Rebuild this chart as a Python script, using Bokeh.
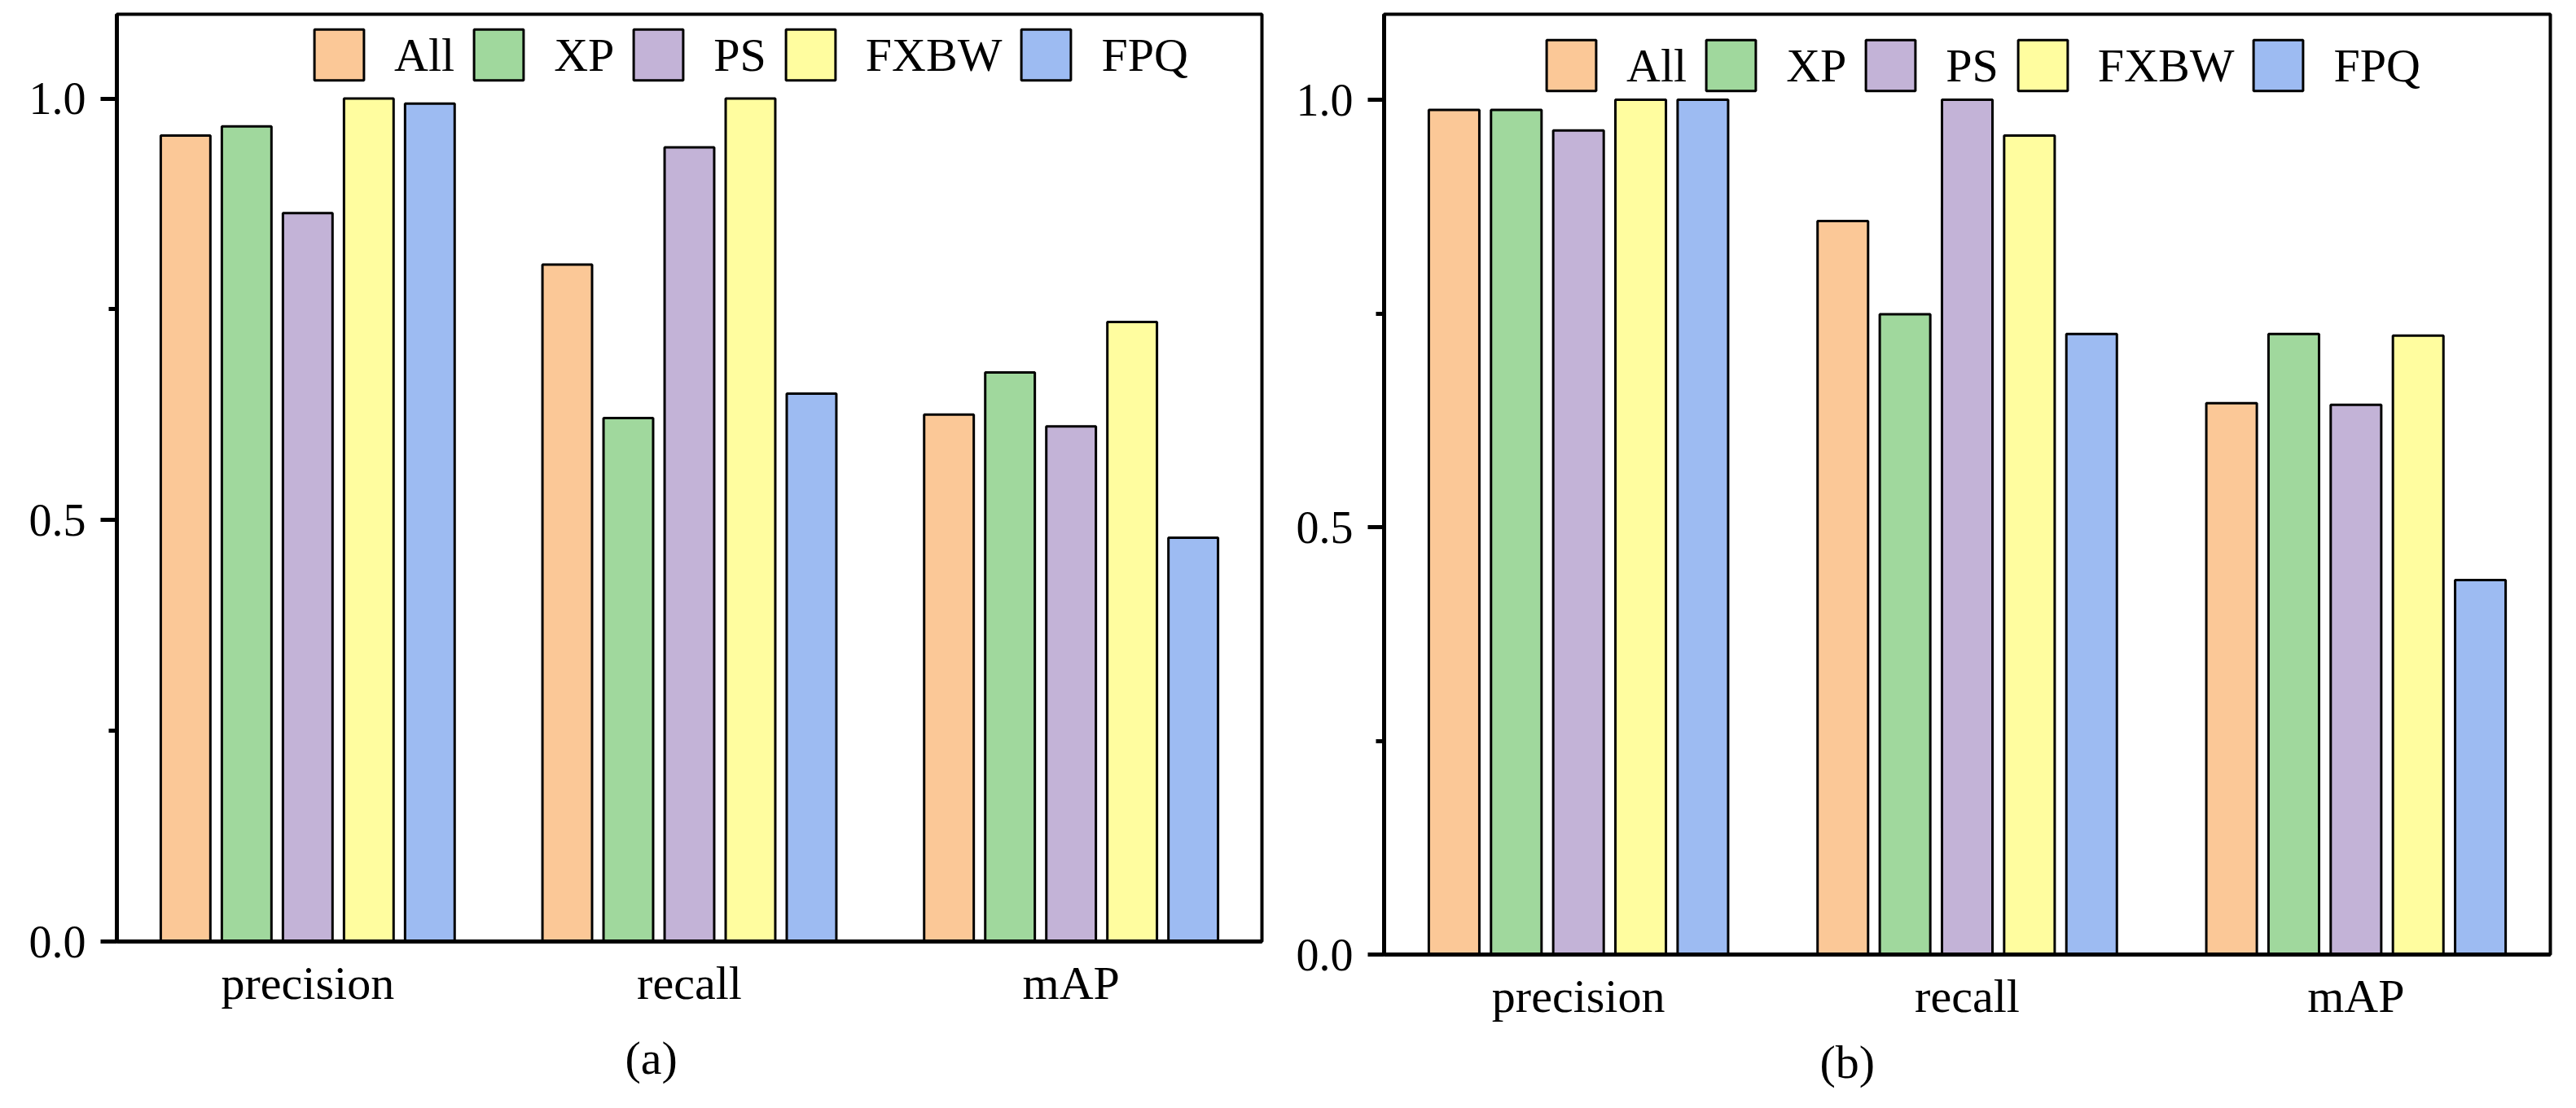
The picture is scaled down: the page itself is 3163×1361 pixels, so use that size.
from bokeh.plotting import figure
from bokeh.models import (ColumnDataSource, FactorRange, Range1d, Legend, LegendItem,
                          Title, FixedTicker, PrintfTickFormatter)
from bokeh.transform import dodge
from bokeh.layouts import row
from bokeh.embed import file_html
from bokeh.resources import INLINE

metrics = ["precision", "recall", "mAP"]
series = ["All", "XP", "PS", "FXBW", "FPQ"]

# panel (a)
a_all = [0.956, 0.803, 0.625]
a_xp = [0.967, 0.621, 0.675]
a_ps = [0.864, 0.942, 0.611]
a_fxbw = [1.000, 1.000, 0.735]
a_fpq = [0.994, 0.650, 0.479]

# panel (b)
b_all = [0.988, 0.858, 0.645]
b_xp = [0.988, 0.749, 0.726]
b_ps = [0.964, 1.000, 0.643]
b_fxbw = [1.000, 0.958, 0.724]
b_fpq = [1.000, 0.726, 0.438]

colors = ["#FBC897", "#A0D89D", "#C3B3D7", "#FFFD9F", "#9DBBF2"]
y_ticks = [0.0, 0.5, 1.0]
y_minor = [0.25, 0.75]

FONT = "Liberation Serif"


def make_panel(vals, fw, fh, bl, br, bt, legend_xy, sub, sub_off, sub_standoff):
    data = {"metric": metrics}
    for s, v in zip(series, vals):
        data[s] = v
    src = ColumnDataSource(data)
    p = figure(x_range=FactorRange(factors=metrics, range_padding=0),
               y_range=Range1d(0, 1.1), frame_width=fw, frame_height=fh,
               output_backend="svg", toolbar_location=None,
               min_border_left=bl, min_border_right=br,
               min_border_top=bt, min_border_bottom=20)
    offsets = [-0.32, -0.16, 0.0, 0.16, 0.32]
    rends = []
    for s, c, off in zip(series, colors, offsets):
        r = p.vbar(x=dodge("metric", off, range=p.x_range), top=s, width=0.13,
                   source=src, fill_color=c, line_color="black", line_width=3)
        rends.append(r)
    p.xgrid.visible = False
    p.ygrid.visible = False
    p.outline_line_color = "black"
    p.outline_line_width = 4
    p.outline_line_alpha = 1
    p.background_fill_color = "white"
    p.border_fill_color = "white"

    xa = p.xaxis[0]
    xa.axis_line_width = 5
    xa.major_tick_line_color = None
    xa.minor_tick_line_color = None
    xa.major_tick_out = 0
    xa.major_label_standoff = 18
    xa.major_label_text_font = FONT
    xa.major_label_text_font_size = "58px"
    xa.major_label_text_color = "black"

    ya = p.yaxis[0]
    ya.ticker = FixedTicker(ticks=y_ticks, minor_ticks=y_minor)
    ya.formatter = PrintfTickFormatter(format="%.1f")
    ya.axis_line_width = 5
    ya.major_tick_line_width = 5
    ya.minor_tick_line_width = 5
    ya.major_tick_out = 20
    ya.major_tick_in = 0
    ya.minor_tick_out = 10
    ya.minor_tick_in = 0
    ya.major_label_standoff = 18
    ya.major_label_text_font = FONT
    ya.major_label_text_font_size = "56px"
    ya.major_label_text_color = "black"

    items = [LegendItem(label=s, renderers=[r]) for s, r in zip(series, rends)]
    leg = Legend(items=items, orientation="horizontal", location=legend_xy,
                 glyph_width=76, glyph_height=78, label_standoff=30, spacing=16,
                 padding=0, margin=0, border_line_alpha=0, background_fill_alpha=0,
                 label_text_font=FONT, label_text_font_size="58px",
                 label_text_color="black")
    p.add_layout(leg)

    t = Title(text=sub, align="left", offset=sub_off, standoff=sub_standoff,
              text_font=FONT, text_font_size="58px", text_font_style="normal",
              text_color="black")
    p.add_layout(t, "below")
    return p


pa = make_panel([a_all, a_xp, a_ps, a_fxbw, a_fpq], 1406, 1139, 143, 23, 17,
                (235, 1050), "(a)", 624, 45)
pb = make_panel([b_all, b_xp, b_ps, b_fxbw, b_fpq], 1432, 1155, 127, 16, 13,
                (192, 1053), "(b)", 535, 22)

lay = row(pa, pb, spacing=0)
open("out.html", "w").write(file_html(lay, INLINE))
